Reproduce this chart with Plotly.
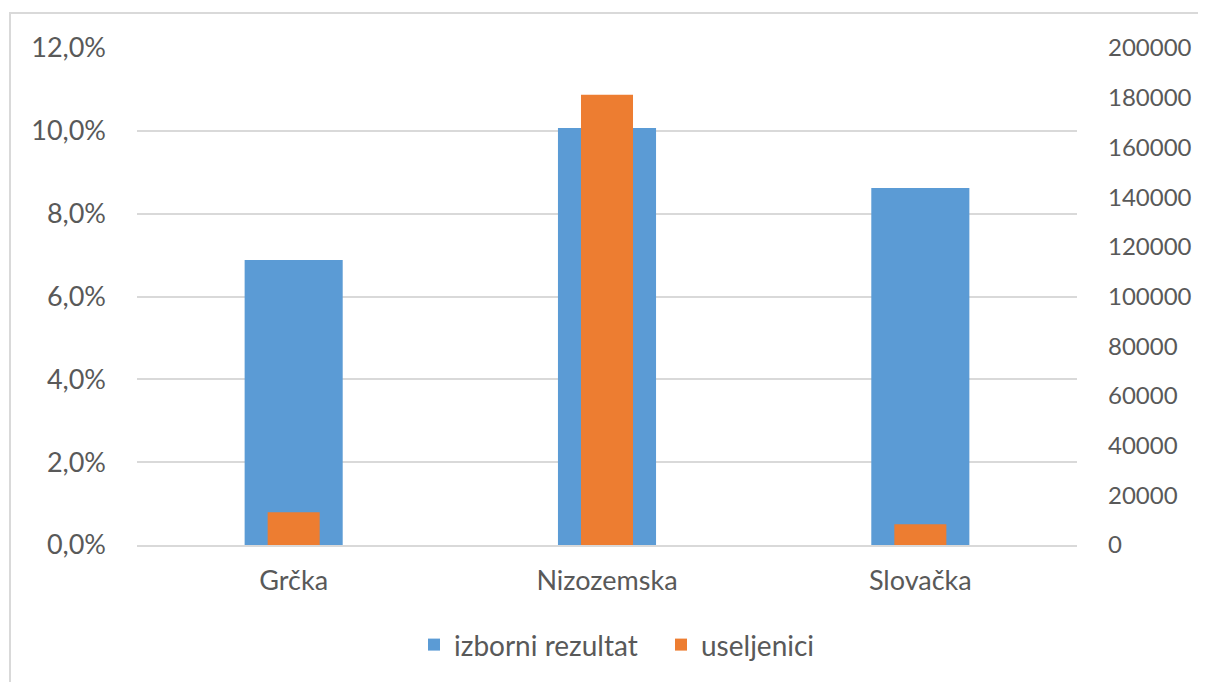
import plotly.graph_objects as go

countries = ["Grčka", "Nizozemska", "Slovačka"]
izborni_rezultat = [0.0688, 0.1007, 0.0862]
useljenici = [13200, 181200, 8300]

left_tickvals = [0, 0.02, 0.04, 0.06, 0.08, 0.10, 0.12]
left_ticktext = ["0,0%", "2,0%", "4,0%", "6,0%", "8,0%", "10,0%", "12,0%"]
right_tickvals = [0, 20000, 40000, 60000, 80000, 100000, 120000, 140000, 160000, 180000, 200000]
right_ticktext = [str(v) for v in right_tickvals]

font_family = "Lato, 'Open Sans', sans-serif"
tick_color = "#595959"
grid_color = "#d9d9d9"
fs = 27

fig = go.Figure()
fig.add_trace(go.Bar(
    x=countries, y=izborni_rezultat, name="izborni rezultat",
    marker=dict(color="#5b9bd5", line=dict(width=0)), width=0.313, yaxis="y",
))
fig.add_trace(go.Bar(
    x=countries, y=useljenici, name="useljenici",
    marker=dict(color="#ed7d31", line=dict(width=0)), width=0.166, yaxis="y2",
))

# page body has an 8px margin; plot area target: x 137..1077, y 48..545 (page coords)
fig.update_layout(
    width=1198, height=674,
    margin=dict(l=129, r=129, t=40, b=137, autoexpand=False),
    paper_bgcolor="white", plot_bgcolor="white",
    barmode="overlay",
    font=dict(family=font_family, size=fs, color=tick_color),
    xaxis=dict(
        showgrid=False, showline=True, linecolor=grid_color, linewidth=2,
        tickfont=dict(size=fs, color=tick_color), ticks="", ticklabelstandoff=11,
        range=[-0.5, 2.5], automargin=False,
    ),
    yaxis=dict(
        range=[0, 0.12], tickvals=left_tickvals, ticktext=left_ticktext,
        showgrid=True, gridcolor=grid_color, gridwidth=2, zeroline=False,
        showline=False, ticks="", ticklabelstandoff=30, automargin=False,
        tickfont=dict(size=fs, color=tick_color),
    ),
    yaxis2=dict(
        range=[0, 200000], tickvals=right_tickvals, ticktext=right_ticktext,
        overlaying="y", side="right", showgrid=False, zeroline=False,
        showline=False, ticks="", ticklabelstandoff=30, automargin=False,
        tickfont=dict(size=24, color=tick_color),
    ),
    legend=dict(
        orientation="h", x=(414 - 137) / 940, xanchor="left", y=-0.201, yanchor="middle",
        font=dict(size=28, color=tick_color), traceorder="normal",
        itemwidth=30, entrywidth=202, entrywidthmode="pixels",
    ),
    shapes=[dict(
        type="rect", xref="paper", yref="paper",
        x0=(10 - 137) / 940, x1=(1220 - 137) / 940,
        y0=(545 - 690) / 497, y1=(545 - 13) / 497,
        line=dict(color="#d9d9d9", width=2), fillcolor="rgba(0,0,0,0)", layer="below",
    )],
)

fig.write_html("out.html")
